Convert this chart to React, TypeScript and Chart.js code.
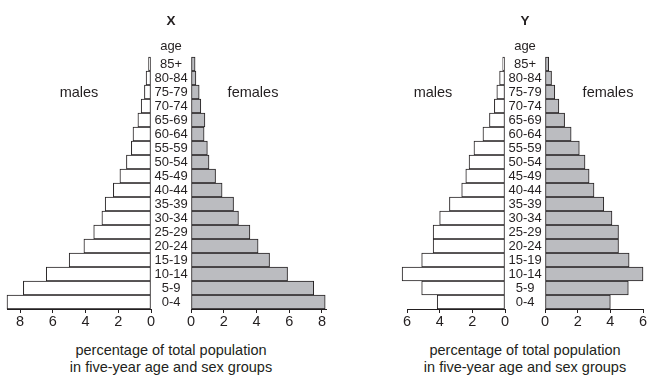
import React, { useEffect, useRef } from "react";
import { Chart, registerables } from "chart.js";

Chart.register(...registerables);

// ---- data ----
const ageGroups = ["0-4", "5-9", "10-14", "15-19", "20-24", "25-29", "30-34", "35-39", "40-44", "45-49", "50-54", "55-59", "60-64", "65-69", "70-74", "75-79", "80-84", "85+"];
const xMales = [8.8, 7.8, 6.4, 5.0, 4.1, 3.5, 3.0, 2.8, 2.3, 1.9, 1.5, 1.2, 1.1, 0.8, 0.6, 0.4, 0.3, 0.15];
const xFemales = [8.2, 7.5, 5.9, 4.8, 4.1, 3.6, 2.9, 2.6, 1.9, 1.5, 1.1, 1.0, 0.8, 0.85, 0.6, 0.5, 0.3, 0.25];
const yMales = [4.15, 5.1, 6.3, 5.1, 4.4, 4.4, 4.0, 3.4, 2.65, 2.4, 2.2, 1.9, 1.35, 0.95, 0.65, 0.5, 0.33, 0.14];
const yFemales = [4.0, 5.1, 6.0, 5.15, 4.5, 4.5, 4.1, 3.6, 3.0, 2.7, 2.45, 2.1, 1.6, 1.2, 0.85, 0.6, 0.4, 0.23];
const xAxisMaxMales = 8.8;
const xAxisMaxFemales = 8.25;
const yAxisMax = 6;

const FONT = '"Liberation Sans", Arial, Helvetica, sans-serif';
const INK = "#231f20";
const FEMALE_FILL = "#bbbcc0";

type HalfProps = {
  left: number;
  width: number;
  values: number[];
  male: boolean;
  max: number;
  padLeft: number;
  padRight: number;
};

const TOP = 43;
const HEIGHT = 296;

function Half({ left, width, values, male, max, padLeft, padRight }: HalfProps) {
  const ref = useRef<HTMLCanvasElement | null>(null);
  useEffect(() => {
    if (!ref.current) return;
    const chart = new Chart(ref.current, {
      type: "bar",
      data: {
        labels: ageGroups,
        datasets: [
          {
            data: values,
            backgroundColor: male ? "#ffffff" : FEMALE_FILL,
            borderColor: INK,
            borderWidth: 1,
            borderSkipped: false,
            barPercentage: 1,
            categoryPercentage: 1,
            clip: false as any,
          },
        ],
      },
      options: {
        indexAxis: "y",
        responsive: false,
        animation: false,
        events: [],
        layout: { padding: { left: padLeft, right: padRight, top: 14, bottom: 0 } },
        plugins: { legend: { display: false }, tooltip: { enabled: false }, title: { display: false } },
        scales: {
          x: {
            type: "linear",
            position: "bottom",
            min: 0,
            max: max,
            reverse: male,
            grid: { display: true, drawOnChartArea: false, drawTicks: true, tickLength: 4, color: INK, lineWidth: 1 },
            border: { display: true, color: INK, width: 1 },
            ticks: {
              stepSize: 2,
              includeBounds: false,
              padding: 0,
              color: INK,
              font: { family: FONT, size: 14.5 },
              maxRotation: 0,
            },
            afterFit: (s: any) => {
              s.height = 30;
            },
          },
          y: {
            type: "category",
            display: male,
            position: "right",
            reverse: true,
            grid: { display: false, drawTicks: false, tickLength: 0 },
            border: { display: false },
            ticks: {
              crossAlign: "center",
              padding: 3.5,
              color: INK,
              font: { family: FONT, size: 13 },
              autoSkip: false,
            },
            afterFit: (s: any) => {
              s.width = male ? 49 : 0;
            },
          },
        },
      } as any,
    });
    return () => chart.destroy();
  }, []);
  return (
    <canvas
      ref={ref}
      width={width}
      height={HEIGHT}
      style={{ position: "absolute", left, top: TOP, width, height: HEIGHT }}
    />
  );
}

function Label({ x, y, text, size, bold }: { x: number; y: number; text: string; size: number; bold?: boolean }) {
  return (
    <div
      style={{
        position: "absolute",
        left: x,
        top: y,
        transform: "translate(-50%, -50%)",
        fontFamily: FONT,
        fontSize: size,
        fontWeight: bold ? "bold" : "normal",
        lineHeight: 1,
        whiteSpace: "nowrap",
        color: INK,
        zIndex: 2,
      }}
    >
      {text}
    </div>
  );
}

export default function App() {
  return (
    <div style={{ position: "absolute", left: 0, top: 0, width: 663, height: 384, background: "#fff", overflow: "hidden" }}>
      <Half left={0} width={200} values={xMales} male={true} max={xAxisMaxMales} padLeft={7} padRight={0} />
      <Half left={179} width={159} values={xFemales} male={false} max={xAxisMaxFemales} padLeft={12} padRight={12} />
      <Half left={380} width={174} values={yMales} male={true} max={yAxisMax} padLeft={27} padRight={0} />
      <Half left={533} width={122} values={yFemales} male={false} max={yAxisMax} padLeft={12} padRight={12} />

      <Label x={171} y={21} text="X" size={13.5} bold />
      <Label x={525} y={21} text="Y" size={13.5} bold />
      <Label x={171} y={44.5} text="age" size={13} />
      <Label x={525} y={44.5} text="age" size={13} />
      <Label x={79} y={92} text="males" size={14.5} />
      <Label x={253} y={92} text="females" size={14.5} />
      <Label x={433} y={92} text="males" size={14.5} />
      <Label x={608} y={92} text="females" size={14.5} />
      <Label x={171} y={349.5} text="percentage of total population" size={14.5} />
      <Label x={171} y={366.5} text="in five-year age and sex groups" size={14.5} />
      <Label x={525} y={349.5} text="percentage of total population" size={14.5} />
      <Label x={525} y={366.5} text="in five-year age and sex groups" size={14.5} />
    </div>
  );
}
